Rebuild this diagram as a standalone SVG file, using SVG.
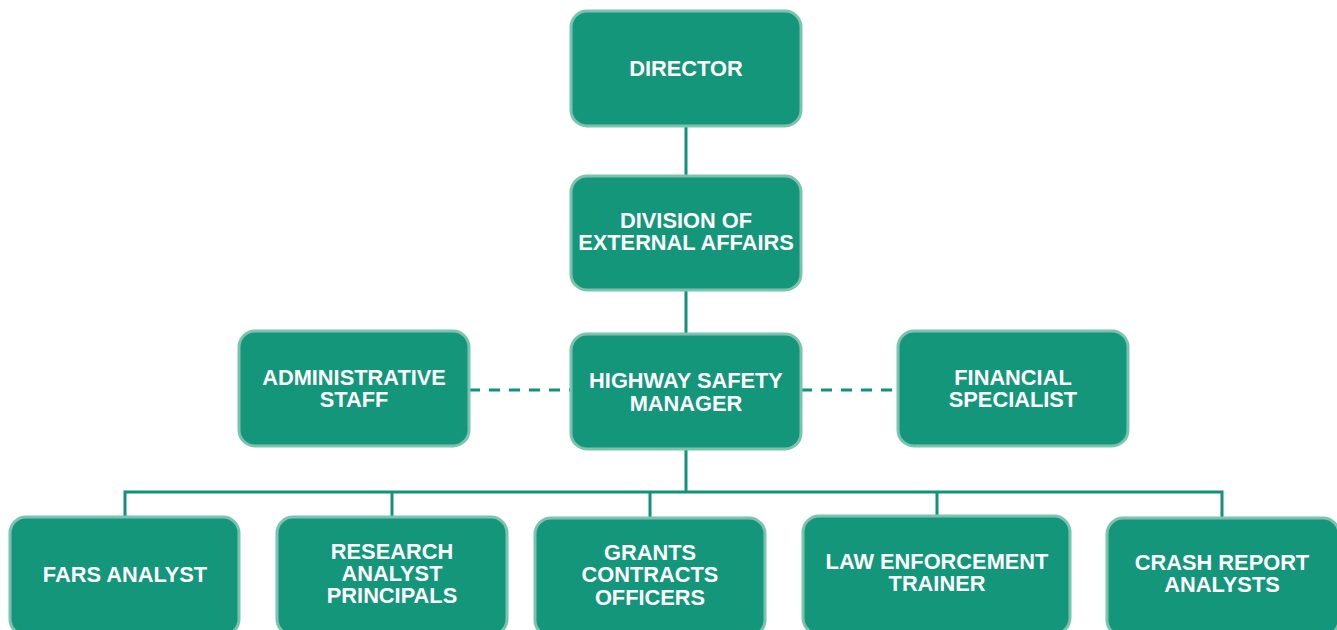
<svg xmlns="http://www.w3.org/2000/svg" width="1337" height="630" viewBox="0 0 1337 630">
<style>
.box{fill:#13967a;stroke:#7cc3ae;stroke-width:3}
.t{font-family:"Liberation Sans",Arial,sans-serif;font-weight:bold;font-size:21.8px;fill:#ffffff;text-anchor:middle}
.c{stroke:#13917a;stroke-width:3;fill:none}
.d{stroke:#13917a;stroke-width:3;fill:none;stroke-dasharray:11 9}
</style>
<rect width="1337" height="630" fill="#ffffff"/>
<g id="connectors">
<line class="c" x1="686" y1="126" x2="686" y2="176"/>
<line class="c" x1="686" y1="290" x2="686" y2="334"/>
<line class="c" x1="686" y1="449" x2="686" y2="492"/>
<polyline class="c" points="125,517 125,492 1222,492 1222,518"/>
<line class="c" x1="392" y1="492" x2="392" y2="517"/>
<line class="c" x1="650" y1="492" x2="650" y2="518"/>
<line class="c" x1="937" y1="492" x2="937" y2="516"/>
<line class="d" x1="469" y1="390" x2="571" y2="390"/>
<line class="d" x1="801" y1="390" x2="898" y2="390"/>
</g>
<g id="director">
<rect class="box" x="571" y="11" width="230" height="115" rx="16"/>
<text class="t" x="686" y="75.5">DIRECTOR</text>
</g>
<g id="division">
<rect class="box" x="571" y="176" width="230" height="114" rx="16"/>
<text class="t" x="686" y="227.5">DIVISION OF</text>
<text class="t" x="686" y="249.5">EXTERNAL AFFAIRS</text>
</g>
<g id="admin">
<rect class="box" x="239" y="331" width="230" height="115" rx="16"/>
<text class="t" x="354" y="384.5">ADMINISTRATIVE</text>
<text class="t" x="354" y="406.5">STAFF</text>
</g>
<g id="manager">
<rect class="box" x="571" y="334" width="230" height="115" rx="16"/>
<text class="t" x="686" y="387.5">HIGHWAY SAFETY</text>
<text class="t" x="686" y="410.5">MANAGER</text>
</g>
<g id="financial">
<rect class="box" x="898" y="331" width="230" height="115" rx="16"/>
<text class="t" x="1013" y="384.5">FINANCIAL</text>
<text class="t" x="1013" y="406.5">SPECIALIST</text>
</g>
<g id="fars">
<rect class="box" x="10" y="517" width="229" height="118" rx="16"/>
<text class="t" x="125" y="581.5">FARS ANALYST</text>
</g>
<g id="research">
<rect class="box" x="277" y="517" width="230" height="118" rx="16"/>
<text class="t" x="392" y="558.5">RESEARCH</text>
<text class="t" x="392" y="580.5">ANALYST</text>
<text class="t" x="392" y="602.5">PRINCIPALS</text>
</g>
<g id="grants">
<rect class="box" x="535" y="518" width="230" height="118" rx="16"/>
<text class="t" x="650" y="559.5">GRANTS</text>
<text class="t" x="650" y="582">CONTRACTS</text>
<text class="t" x="650" y="604.5">OFFICERS</text>
</g>
<g id="law">
<rect class="box" x="803" y="516" width="267" height="118" rx="16"/>
<text class="t" x="937" y="568.5">LAW ENFORCEMENT</text>
<text class="t" x="937" y="590.5">TRAINER</text>
</g>
<g id="crash">
<rect class="box" x="1107" y="518" width="232" height="118" rx="16"/>
<text class="t" x="1222" y="569.5">CRASH REPORT</text>
<text class="t" x="1222" y="591.5">ANALYSTS</text>
</g>
</svg>
